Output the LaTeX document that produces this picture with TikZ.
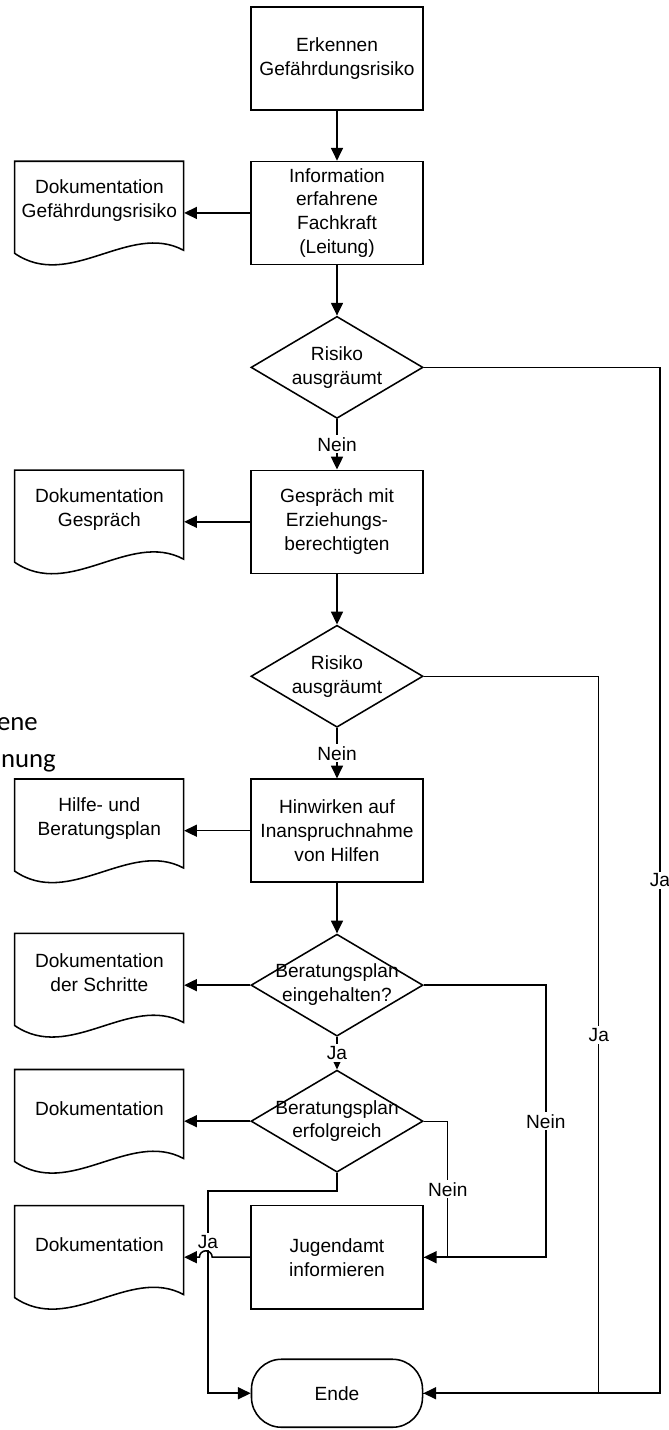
\documentclass[tikz,border=0pt]{standalone}
\usepackage{fontspec}
\setmainfont{Liberation Sans}
\newfontfamily\strayfont{Carlito}
\usetikzlibrary{positioning,arrows.meta,shapes.geometric}

\newcommand{\dtext}[1]{\makebox[0pt]{\begin{tabular}{@{}c@{}}#1\end{tabular}}}

\tikzset{
  box/.style={draw, rectangle, line width=1.1pt, minimum width=4.3cm, minimum height=2.575cm, align=center, inner sep=2pt},
  decision/.style={draw, diamond, line width=1.1pt, minimum width=4.3cm, minimum height=2.55cm, inner sep=0pt},
  doc/.style={rectangle, minimum width=4.225cm, minimum height=1.95cm, align=center, inner sep=0pt},
  terminal/.style={draw, rectangle, rounded corners=0.75cm, line width=1.1pt, minimum width=4.275cm, minimum height=1.7cm},
  flow/.style={line width=1.1pt, -{Triangle[length=3.2mm,width=3mm]}},
  link/.style={line width=0.8pt},
  lbl/.style={fill=white, inner sep=1.5pt}
}

\begin{document}
\begin{tikzpicture}[x=0.025cm, y=-0.025cm, node distance=3.86cm,
    every node/.append style={font=\fontsize{13.6}{17}\selectfont}]
  \useasboundingbox (0,0) rectangle (669,1430);

  \node[box] (b1) at (337,58.5) {Erkennen\\Gefährdungsrisiko};
  \node[box, below of=b1] (b2) {Information\\erfahrene\\Fachkraft\\(Leitung)};
  \node[decision, below of=b2] (d1) {\dtext{Risiko\\ausgräumt}};
  \node[box, below of=d1] (b3) {Gespräch mit\\Erziehungs-\\berechtigten};
  \node[decision, below of=b3] (d2) {\dtext{Risiko\\ausgräumt}};
  \node[box, below of=d2] (b4) {Hinwirken auf\\Inanspruchnahme\\von Hilfen};
  \node[decision, below of=b4] (d3) {\dtext{Beratungsplan\\eingehalten?}};
  \node[decision, below of=d3, yshift=0.46cm] (d4) {\dtext{Beratungsplan\\erfolgreich}};
  \node[box, below of=d4, yshift=0.46cm] (b5) {Jugendamt\\informieren};
  \node[terminal, below of=b5, yshift=0.46cm] (ende) {Ende};

  % Dokumente links
  \node[doc, left of=b2, xshift=-2.08cm, yshift=0.31cm] (k1) {Dokumentation\\Gefährdungsrisiko};
  \node[doc, left of=b3, xshift=-2.08cm, yshift=0.31cm] (k2) {Dokumentation\\Gespräch};
  \node[doc, left of=b4, xshift=-2.08cm, yshift=0.31cm] (k3) {Hilfe- und\\Beratungsplan};
  \node[doc, left of=d3, xshift=-2.08cm, yshift=0.31cm] (k4) {Dokumentation\\der Schritte};
  \node[doc, left of=d4, xshift=-2.08cm, yshift=0.31cm] (k5) {Dokumentation};
  \node[doc, left of=b5, xshift=-2.08cm, yshift=0.31cm] (k6) {Dokumentation};
  \foreach \k in {k1,k2,k3,k4,k5,k6}
    \draw[line width=1.1pt, shift={(\k.north west)}] (0,0) -- (169,0) -- (169,89)
      .. controls (115,60) and (55,130) .. (0,92) -- cycle;

  \node[font=\strayfont\fontsize{19}{22}\selectfont, anchor=base east, inner sep=0pt] (ene) at (38,730) {ene};
  \node[font=\strayfont\fontsize{19}{22}\selectfont, anchor=base east, inner sep=0pt] (nung) at (56,767) {nung};

  \draw[flow] (b1) -- (b2);
  \draw[flow] (b2.west) -- (b2.west -| k1.east);
  \draw[flow] (b2) -- (d1);
  \draw[flow] (d1) -- node[lbl] {Nein} (b3);
  \draw[flow] (b3.west) -- (b3.west -| k2.east);
  \draw[flow] (b3) -- (d2);
  \draw[flow] (d2) -- node[lbl] {Nein} (b4);
  \draw[flow] (b4.west) -- (b4.west -| k3.east);
  \draw[flow] (b4) -- (d3);
  \draw[flow] (d3.west) -- (d3.west -| k4.east);
  \draw[flow] (d3) -- node[lbl] {Ja} (d4);
  \draw[flow] (d4.west) -- (d4.west -| k5.east);

  \draw[flow] (d1.east) -- ++(5.9cm,0) |- node[lbl, pos=0.25] {Ja} (ende.east);
  \draw[link] (d2.east) -- ++(4.375cm,0) |- node[lbl, pos=0.25] {Ja} (ende.east);
  \draw[flow] (d3.east) -- ++(3.05cm,0) |- node[lbl, pos=0.25] {Nein} (b5.east);
  \draw[link] (d4.east) -- ++(0.6cm,0) |- node[lbl, pos=0.25] {Nein} (b5.east);
  \draw[flow] (d4.south) -- ++(0,-0.45cm) -- ++(-3.225cm,0) |- node[lbl, pos=0.125] {Ja} (ende.west);
  \draw[flow] (b5.west) -- ++(-0.95cm,0) arc[start angle=0, end angle=180, radius=0.16cm] -- (b5.west -| k6.east);
\end{tikzpicture}
\end{document}
